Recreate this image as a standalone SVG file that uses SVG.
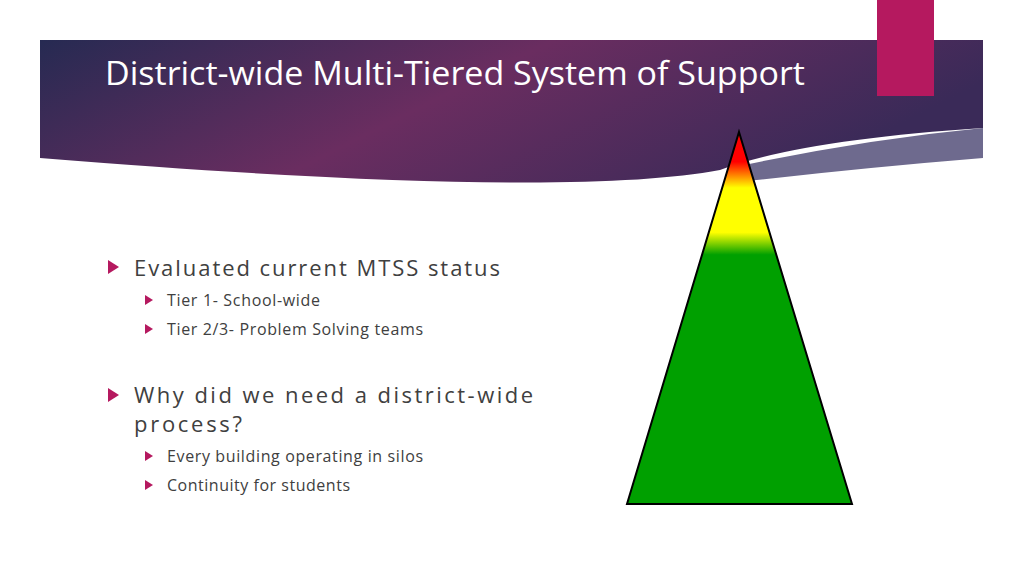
<svg xmlns="http://www.w3.org/2000/svg" width="1024" height="576" viewBox="0 0 1024 576">
<defs>
<linearGradient id="hdr" x1="0" y1="0" x2="1" y2="0.3">
<stop offset="0" stop-color="#262a52"/>
<stop offset="0.5" stop-color="#6a2d60"/>
<stop offset="1" stop-color="#3a2a58"/>
</linearGradient>
<linearGradient id="tri" x1="0" y1="132" x2="0" y2="504" gradientUnits="userSpaceOnUse">
<stop offset="0" stop-color="#ff0000"/>
<stop offset="0.08" stop-color="#ff0000"/>
<stop offset="0.15" stop-color="#ffff00"/>
<stop offset="0.27" stop-color="#ffff00"/>
<stop offset="0.33" stop-color="#00a000"/>
<stop offset="1" stop-color="#00a000"/>
</linearGradient>
<path id="b" d="M0,-7 L11,0 L0,7 Z" fill="#b5195f"/>
<path id="s" d="M0,-5 L8,0 L0,5 Z" fill="#b5195f"/>
<style>.m{font-family:"Open Sans","Liberation Sans",sans-serif;font-size:22px;fill:#404040}.t{font-family:"Open Sans","Liberation Sans",sans-serif;font-size:16px;fill:#404040}</style>
</defs>
<rect width="1024" height="576" fill="#fff"/>
<path d="M730,168 Q860,140 983,128 L983,158 Q860,168 740,182 Z" fill="#6e6a8e"/>
<path d="M40,40 H983 V128 Q800,140 720,170 Q560,200 40,158 Z" fill="url(#hdr)"/>
<rect x="877" y="0" width="57" height="96" fill="#b5195f"/>
<text x="105" y="85" font-family="'Open Sans','Liberation Sans',sans-serif" font-size="32" fill="#fff" textLength="700" lengthAdjust="spacingAndGlyphs">District-wide Multi-Tiered System of Support</text>
<polygon points="739,132 852,504 627,504" fill="url(#tri)" stroke="#000" stroke-width="2"/>
<use href="#b" x="108" y="267"/>
<text class="m" x="134" y="276" textLength="366">Evaluated current MTSS status</text>
<use href="#s" x="145" y="300"/>
<text class="t" x="167" y="306" textLength="153">Tier 1- School-wide</text>
<use href="#s" x="145" y="329"/>
<text class="t" x="167" y="335" textLength="256">Tier 2/3- Problem Solving teams</text>
<use href="#b" x="108" y="395"/>
<text class="m" x="134" y="403" textLength="399">Why did we need a district-wide</text>
<text class="m" x="134" y="432" textLength="108">process?</text>
<use href="#s" x="145" y="456"/>
<text class="t" x="167" y="462" textLength="256">Every building operating in silos</text>
<use href="#s" x="145" y="485"/>
<text class="t" x="167" y="491" textLength="183">Continuity for students</text>
</svg>
